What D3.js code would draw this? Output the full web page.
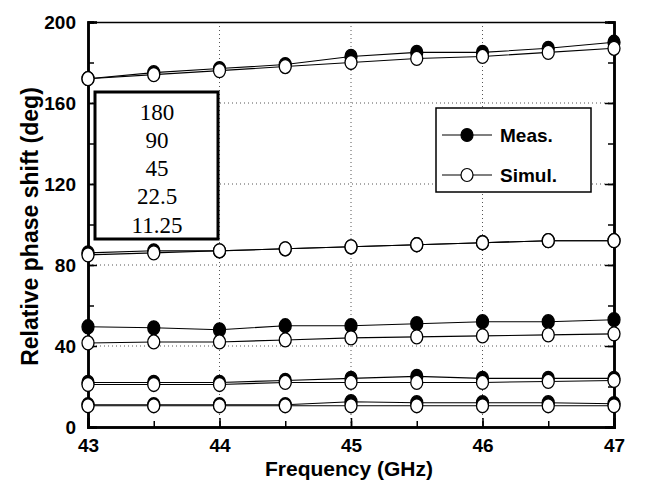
<!DOCTYPE html>
<html><head><meta charset="utf-8">
<script src="https://cdn.jsdelivr.net/npm/d3@7"></script>
<style>body{margin:0;background:#fff}</style>
</head><body>
<svg id="c" width="664" height="490"></svg>
<script>
const freq = [43, 43.5, 44, 44.5, 45, 45.5, 46, 46.5, 47];
const meas180 = [172, 175, 177, 179, 183, 185, 185, 187, 190];
const simul180 = [172, 174, 176, 178, 180, 182, 183, 185, 187];
const meas90 = [86, 87, 87, 88, 89, 90, 91, 92, 92];
const simul90 = [85, 86, 87, 88, 89, 90, 91, 92, 92];
const meas45 = [49.5, 49, 48, 50, 50, 51, 52, 52, 53];
const simul45 = [41.5, 42, 42, 43, 44, 44.5, 45, 45.5, 46];
const meas22 = [22, 22, 22, 23, 24, 25, 24, 24, 24];
const simul22 = [21, 21, 21, 22, 22, 22, 22, 22.5, 23];
const meas11 = [11, 11, 11, 11, 12.5, 12, 12, 12, 11.5];
const simul11 = [10.5, 10.5, 10.5, 10.5, 10.5, 10.5, 10.5, 10.5, 10.5];
const xTicks = [43, 44, 45, 46, 47];
const yTicks = [0, 40, 80, 120, 160, 200];
const boxLabels = ["180", "90", "45", "22.5", "11.25"];
const legendLabels = ["Meas.", "Simul."];

const svg = d3.select("#c");
const L = 88, R = 614, T = 22, B = 427;
const x = d3.scaleLinear().domain([43, 47]).range([L, R]);
const y = d3.scaleLinear().domain([0, 200]).range([B, T]);

// grid
const g = svg.append("g");
g.selectAll(".gx").data([44, 45, 46]).enter().append("line")
  .attr("x1", d => x(d)).attr("x2", d => x(d)).attr("y1", T).attr("y2", B)
  .attr("stroke", "#555").attr("stroke-width", 1).attr("stroke-dasharray", "1,3");
g.selectAll(".gy").data([40, 80, 120, 160]).enter().append("line")
  .attr("y1", d => y(d)).attr("y2", d => y(d)).attr("x1", L).attr("x2", R)
  .attr("stroke", "#555").attr("stroke-width", 1).attr("stroke-dasharray", "1,3");

// axes with inward ticks
const font = "'Liberation Sans', Arial, sans-serif";
const xMinor = d3.range(43, 47.01, 0.5);
const yMinor = d3.range(0, 200.1, 20);
const axB = svg.append("g").attr("transform", `translate(0,${B})`)
  .call(d3.axisBottom(x).tickValues(xMinor).tickSize(-6).tickFormat(""));
const axB2 = svg.append("g").attr("transform", `translate(0,${B})`)
  .call(d3.axisBottom(x).tickValues(xTicks).tickSize(-9).tickPadding(12).tickFormat(d3.format("d")));
const axT = svg.append("g").attr("transform", `translate(0,${T})`)
  .call(d3.axisTop(x).tickValues([]).tickSize(0));
const axL = svg.append("g").attr("transform", `translate(${L},0)`)
  .call(d3.axisLeft(y).tickValues(yMinor).tickSize(-6).tickFormat(""));
const axL2 = svg.append("g").attr("transform", `translate(${L},0)`)
  .call(d3.axisLeft(y).tickValues(yTicks).tickSize(-9).tickPadding(12).tickFormat(d3.format("d")));
const axR = svg.append("g").attr("transform", `translate(${R},0)`)
  .call(d3.axisRight(y).tickValues(yMinor).tickSize(-6).tickFormat(""));
const axR2 = svg.append("g").attr("transform", `translate(${R},0)`)
  .call(d3.axisRight(y).tickValues(yTicks).tickSize(-9).tickFormat(""));
[axB, axB2, axT, axL, axL2, axR, axR2].forEach(a => {
  a.selectAll("path.domain").attr("stroke", "#000").attr("stroke-width", 2.5);
  a.selectAll(".tick line").attr("stroke", "#000").attr("stroke-width", 1.5);
  a.selectAll("text").attr("font-family", font).attr("font-size", 19)
   .attr("font-weight", "bold").attr("fill", "#000");
});
axT.select("path.domain").attr("stroke-width", 1.5);
axL2.selectAll("text").attr("dy", "0.35em");

// series
const pairs = [
  [meas180, simul180], [meas90, simul90], [meas45, simul45], [meas22, simul22], [meas11, simul11]
];
const line = d3.line().x(d => x(d[0])).y(d => y(d[1]));
const series = [];
pairs.forEach(p => {
  series.push({vals: p[0], filled: true});
  series.push({vals: p[1], filled: false});
});
series.forEach(s => {
  svg.append("path").datum(freq.map((f, i) => [f, s.vals[i]]))
    .attr("d", line).attr("fill", "none").attr("stroke", "#000").attr("stroke-width", 1.1);
});
series.forEach(s => {
  svg.append("g").selectAll("ellipse").data(freq.map((f, i) => [f, s.vals[i]]))
    .enter().append("ellipse")
    .attr("cx", d => x(d[0])).attr("cy", d => y(d[1])).attr("rx", 6).attr("ry", 7)
    .attr("fill", s.filled ? "#000" : "#fff").attr("stroke", "#000").attr("stroke-width", 1.3);
});

// label box
svg.append("rect").attr("x", 95).attr("y", 92).attr("width", 123).attr("height", 147)
  .attr("fill", "#fff").attr("stroke", "#000").attr("stroke-width", 3);
svg.selectAll(".bl").data(boxLabels).enter().append("text")
  .attr("x", 157).attr("y", (d, i) => 112 + i * 28.3).attr("text-anchor", "middle")
  .attr("dominant-baseline", "central")
  .attr("font-family", "'Liberation Serif', 'Times New Roman', serif").attr("font-size", 23)
  .text(d => d);

// legend
svg.append("rect").attr("x", 436).attr("y", 108).attr("width", 155).attr("height", 84)
  .attr("fill", "#fff").attr("stroke", "#000").attr("stroke-width", 1.5);
legendLabels.forEach((t, i) => {
  const ly = 135 + i * 40;
  svg.append("line").attr("x1", 442).attr("x2", 492).attr("y1", ly).attr("y2", ly)
    .attr("stroke", "#000").attr("stroke-width", 1.1);
  svg.append("ellipse").attr("cx", 467).attr("cy", ly).attr("rx", 6).attr("ry", 6.5)
    .attr("fill", i === 0 ? "#000" : "#fff").attr("stroke", "#000").attr("stroke-width", 1.2);
  svg.append("text").attr("x", 500).attr("y", ly).attr("dominant-baseline", "central")
    .attr("font-family", font).attr("font-size", 19).attr("font-weight", "bold").text(t);
});

// axis titles
svg.append("text").attr("x", (L + R) / 2 - 2).attr("y", 476).attr("text-anchor", "middle")
  .attr("font-family", font).attr("font-size", 21).attr("font-weight", "bold").text("Frequency (GHz)");
svg.append("text").attr("transform", `translate(30,${(T + B) / 2 + 2}) rotate(-90)`)
  .attr("text-anchor", "middle").attr("dominant-baseline", "central").attr("font-family", font).attr("font-size", 23)
  .attr("font-weight", "bold").text("Relative phase shift (deg)");
</script>
</body></html>
